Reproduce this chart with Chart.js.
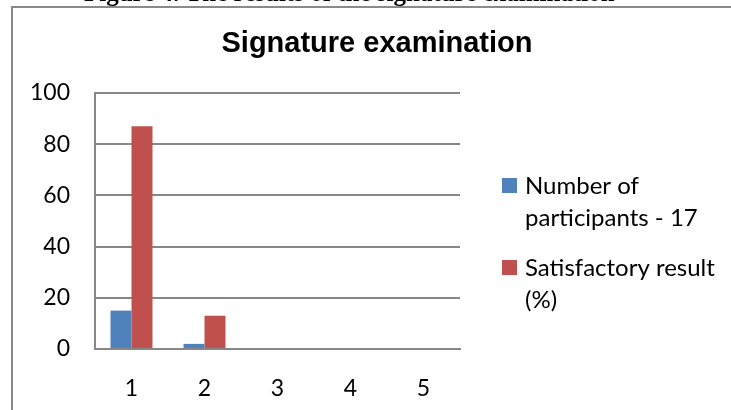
<!DOCTYPE html>
<html>
<head>
<meta charset="utf-8">
<script src="https://cdn.jsdelivr.net/npm/chart.js@4/dist/chart.umd.min.js"></script>
<style>
  html, body { margin: 0; padding: 0; background: #ffffff; }
  #wrap { width: 731px; height: 410px; position: relative; }
</style>
</head>
<body>
<div id="wrap"><canvas id="chart" width="731" height="410"></canvas></div>
<script>
// Categories along the x axis
const categories = ['1', '2', '3', '4', '5'];
// Series values
const participants = [15, 2, 0, 0, 0];
const satisfactory = [87, 13, 0, 0, 0];
// Legend labels (each split over two lines)
const participantsLabel = ['Number of', 'participants - 17'];
const satisfactoryLabel = ['Satisfactory result', '(%)'];
// Value axis ticks
const yTicks = [0, 20, 40, 60, 80, 100];

const captionText = 'Figure 4. The results of the signature examination';
const titleText = 'Signature examination';

const GRID = '#878787';
const BLUE = '#4F81BD';
const RED = '#C0504D';
const LABEL_FONT = 'Lato, "Open Sans", sans-serif';

// Frame around the chart plus the caption line above it
const framePlugin = {
  id: 'frame',
  beforeDraw(chart) {
    const ctx = chart.ctx;
    ctx.save();
    ctx.fillStyle = '#ffffff';
    ctx.fillRect(0, 0, chart.width, chart.height);
    ctx.strokeStyle = '#8a8a8a';
    ctx.lineWidth = 2;
    ctx.strokeRect(12, 7, chart.width + 20, chart.height + 20);
    ctx.fillStyle = '#000000';
    ctx.font = 'bold 25px "Liberation Serif", serif';
    ctx.textBaseline = 'alphabetic';
    ctx.textAlign = 'left';
    ctx.fillText(captionText, 84, 1);
    ctx.restore();
  }
};

// Chart title centred over the whole frame
const titlePlugin = {
  id: 'centredTitle',
  afterDraw(chart) {
    const ctx = chart.ctx;
    ctx.save();
    ctx.fillStyle = '#000000';
    ctx.font = 'bold 29px "Liberation Sans", Arial, sans-serif';
    ctx.textAlign = 'center';
    ctx.textBaseline = 'middle';
    ctx.fillText(titleText, 377, 44);
    ctx.restore();
  }
};

// Legend drawn to the right of the plot, with wrapped labels
const sideLegend = {
  id: 'sideLegend',
  afterDraw(chart) {
    const ctx = chart.ctx;
    ctx.save();
    ctx.font = '24px ' + LABEL_FONT;
    ctx.textBaseline = 'middle';
    ctx.textAlign = 'left';
    const x0 = chart.chartArea.right + 42;
    let y = 185;
    chart.data.datasets.forEach((ds) => {
      ctx.fillStyle = ds.backgroundColor;
      ctx.fillRect(x0, y - 7, 15, 15);
      ctx.fillStyle = '#000000';
      const lines = Array.isArray(ds.label) ? ds.label : [ds.label];
      lines.forEach((line, i) => {
        ctx.fillText(line, x0 + 23, y + 1 + i * 32);
      });
      y += lines.length * 32 + 18;
    });
    ctx.restore();
  }
};

new Chart(document.getElementById('chart'), {
  type: 'bar',
  data: {
    labels: categories,
    datasets: [
      { label: participantsLabel, data: participants, backgroundColor: BLUE },
      { label: satisfactoryLabel, data: satisfactory, backgroundColor: RED }
    ]
  },
  options: {
    responsive: false,
    animation: false,
    layout: { padding: { left: 0, right: 271, top: 93, bottom: 0 } },
    datasets: {
      bar: { categoryPercentage: 0.575, barPercentage: 1.0 }
    },
    plugins: {
      legend: { display: false },
      tooltip: { enabled: false },
      title: { display: false }
    },
    scales: {
      x: {
        grid: { display: false, drawTicks: false },
        border: { display: true, color: GRID, width: 2 },
        ticks: { color: '#000000', font: { family: LABEL_FONT, size: 23 }, padding: 26 },
        afterFit(scale) { scale.height = 61; }
      },
      y: {
        min: 0,
        max: 100,
        afterBuildTicks(scale) { scale.ticks = yTicks.map(v => ({ value: v })); },
        grid: { color: GRID, lineWidth: 2, drawTicks: false },
        border: { display: true, color: GRID, width: 2 },
        ticks: { color: '#000000', font: { family: LABEL_FONT, size: 23 }, padding: 25 },
        afterFit(scale) { scale.width = 95; }
      }
    }
  },
  plugins: [framePlugin, titlePlugin, sideLegend]
});
</script>
</body>
</html>
